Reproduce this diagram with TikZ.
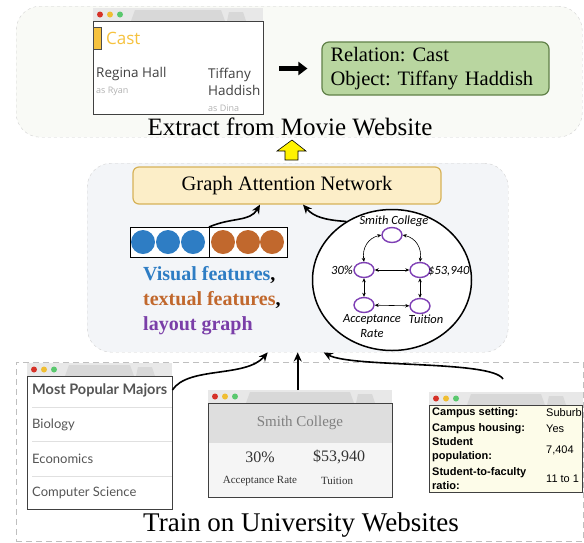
\documentclass[tikz,border=0pt]{standalone}
\usepackage{fontspec}
\setmainfont{Liberation Serif}
\newfontfamily\castfont{Open Sans}
\newfontfamily\majorfont{Lato}
\newfontfamily\graphfont{Carlito}
\newfontfamily\tablefont{Liberation Sans}
\usetikzlibrary{arrows.meta,shapes.geometric}

\definecolor{toppanelfill}{RGB}{249,250,246}
\definecolor{midpanelfill}{RGB}{243,245,248}
\definecolor{gatfill}{RGB}{252,238,200}
\definecolor{gatdraw}{RGB}{214,178,88}
\definecolor{relfill}{RGB}{185,214,160}
\definecolor{reldraw}{RGB}{96,128,72}
\definecolor{visblue}{RGB}{46,125,196}
\definecolor{txtorange}{RGB}{193,104,45}
\definecolor{layoutpurple}{RGB}{122,62,168}
\definecolor{gpurple}{RGB}{126,63,181}
\definecolor{castyellow}{RGB}{246,194,62}
\definecolor{barfill}{RGB}{232,232,232}
\definecolor{tabfill}{RGB}{216,216,216}
\definecolor{dotred}{RGB}{214,50,40}
\definecolor{dotyellow}{RGB}{240,190,50}
\definecolor{dotgreen}{RGB}{90,200,110}
\definecolor{campusfill}{RGB}{253,252,233}
\definecolor{headgrey}{RGB}{222,222,222}
\definecolor{lowgrey}{RGB}{245,245,245}
\definecolor{uigrey}{RGB}{85,85,85}

\newcommand{\browserbar}[3]{%
    \fill[barfill] (#1,#2) rectangle ++(#3,13);
    \fill[tabfill] (#1+38,#2+13) -- (#1+42,#2+2) -- (#1+#3-42,#2+2) -- (#1+#3-38,#2+13) -- cycle;
    \fill[tabfill] (#1+#3-36,#2+13) -- (#1+#3-34,#2+4) -- (#1+#3-20,#2+4) -- (#1+#3-17,#2+13) -- cycle;
    \fill[dotred] (#1+7,#2+6.5) circle (3pt);
    \fill[dotyellow] (#1+17,#2+6.5) circle (3pt);
    \fill[dotgreen] (#1+27,#2+6.5) circle (3pt);
}

\begin{document}
\frenchspacing
\begin{tikzpicture}[x=1pt,y=-1pt,
    panel/.style={draw=black!18, dashed, rounded corners=24pt, anchor=north west, inner sep=0pt},
    winbody/.style={draw=black!75, anchor=north west, inner sep=0pt},
    txt/.style={inner sep=0pt, anchor=west},
    flow/.style={-{Stealth[length=9pt,width=8pt]}, line width=1.6pt},
    gnode/.style={ellipse, draw=gpurple, line width=1.4pt, fill=white, minimum width=20pt, minimum height=15pt, inner sep=0pt},
    glabel/.style={inner sep=0pt, font=\graphfont\itshape\fontsize{12.5}{15}\selectfont},
    gedge/.style={{Stealth[length=4pt,width=3.5pt]}-{Stealth[length=4pt,width=3.5pt]}, line width=0.6pt},
    castname/.style={txt, text=black!75, font=\castfont\fontsize{13.5}{15}\selectfont},
    castrole/.style={txt, text=black!30, font=\castfont\fontsize{9}{11}\selectfont},
    majortext/.style={txt, text=uigrey, font=\majorfont\fontsize{13}{15}\selectfont},
    campuskey/.style={txt, align=left, font=\tablefont\bfseries\fontsize{11}{14}\selectfont},
    campusval/.style={txt, font=\tablefont\fontsize{11}{14}\selectfont}]
    \useasboundingbox (0,0) rectangle (584,542);

    \node[panel, fill=toppanelfill, minimum width=566pt, minimum height=131pt] (toppanel) at (16,6) {};
    \node[panel, fill=midpanelfill, minimum width=421pt, minimum height=189pt] (midpanel) at (87,163) {};
    \node[draw=black!25, dash pattern=on 6pt off 4pt, line width=0.9pt, anchor=north west, inner sep=0pt, minimum width=567pt, minimum height=179pt] (lowpanel) at (16,362) {};

    \browserbar{93}{8}{170}
    \node[winbody, fill=white, minimum width=170pt, minimum height=93pt] (castwin) at (93,21) {};
    \node[draw=black!70, fill=castyellow, anchor=north west, inner sep=0pt, minimum width=8pt, minimum height=22pt] (castmark) at (93,27) {};
    \node[txt, text=castyellow, font=\castfont\fontsize{17}{20}\selectfont] (casthead) at (106,38) {Cast};
    \node[castname] (regina) at (96,74) {Regina Hall};
    \node[castrole] (reginarole) at (96,91) {as Ryan};
    \node[castname] (tiffany) at (208,75) {Tiffany};
    \node[castname] (haddish) at (208,90) {Haddish};
    \node[castrole] (tiffanyrole) at (208,108) {as Dina};

    \node[draw=reldraw, line width=1.2pt, fill=relfill, rounded corners=7pt, align=left, text width=210pt, inner xsep=8.5pt, minimum height=53pt, font=\fontsize{20.5}{24}\selectfont] (relation) at (435.5,68.5) {Relation: Cast\\Object: Tiffany Haddish};
    \draw[-{Triangle[length=9pt,width=13pt]}, line width=4.5pt, shorten <=16pt, shorten >=14pt] (castwin.east |- relation.west) -- (relation.west);
    \node[inner sep=0pt, font=\fontsize{25}{30}\selectfont] (extracttitle) at (290,127) {Extract from Movie Website};

    \draw[fill=yellow, line width=0.6pt] (285,160) -- (285,151) -- (277,151) -- (292,140) -- (306,151) -- (298,151) -- (298,160) -- cycle;

    \node[draw=gatdraw, line width=1.2pt, fill=gatfill, rounded corners=6pt, minimum width=308pt, minimum height=37pt, font=\fontsize{20.5}{24}\selectfont] (gat) at (287,185.5) {Graph Attention Network};

    \node[draw, line width=1.3pt, fill=white, anchor=north west, inner sep=0pt, minimum width=79pt, minimum height=30pt] (visbar) at (130,227) {};
    \node[draw, line width=1.3pt, fill=white, anchor=north west, inner sep=0pt, minimum width=78pt, minimum height=30pt] (textbar) at (209,227) {};
    \foreach \cx in {143,168,193}
        \fill[visblue] (\cx,242) circle (12pt);
    \foreach \cx in {223,248,272}
        \fill[txtorange] (\cx,242) circle (12pt);
    \node[txt, align=left, font=\bfseries\fontsize{20}{25}\selectfont] (featlegend) at (143,301) {\textcolor{visblue}{Visual features},\\\textcolor{txtorange}{textual features},\\\textcolor{layoutpurple}{layout graph}};

    \node[draw, ellipse, line width=1.5pt, fill=white, minimum width=159pt, minimum height=141pt, inner sep=0pt] (bubble) at (392,280) {};
    \node[gnode] (gsmith) at (392,235) {};
    \node[gnode] (gpct) at (364,270) {};
    \node[gnode] (gcost) at (420,270) {};
    \node[gnode] (gaccept) at (364,305) {};
    \node[gnode] (gtuition) at (420,306) {};
    \node[glabel] (lsmith) at (394,221) {Smith College};
    \node[glabel, anchor=east] (lpct) at (353,270) {30\%};
    \node[glabel, anchor=west] (lcost) at (428,271) {\$53,940};
    \node[glabel, align=center] (laccept) at (372,326) {Acceptance\\Rate};
    \node[glabel] (ltuition) at (426,319) {Tuition};
    \draw[gedge] (gsmith.west) .. controls (368,238) and (362,248) .. (gpct.north);
    \draw[gedge] (gsmith.east) .. controls (416,238) and (422,248) .. (gcost.north);
    \draw[gedge] (gpct) -- (gcost);
    \draw[gedge] (gpct) -- (gaccept);
    \draw[gedge] (gcost) -- (gtuition);
    \draw[gedge] (gaccept) -- (gtuition);

    \draw[flow] (textbar.north west) .. controls (232,217) and (250,222) .. ([xshift=-27pt]gat.south);
    \draw[flow] (bubble.128) .. controls (325,220) and (314,217) .. ([xshift=16pt]gat.south);

    \browserbar{27}{363}{145}
    \node[winbody, fill=white, minimum width=145pt, minimum height=133pt] (majorswin) at (27,376) {};
    \node[majortext, font=\majorfont\bfseries\fontsize{14.5}{16}\selectfont] (majorhead) at (32,390) {Most Popular Majors};
    \foreach \sy in {407,441,476}
        \draw[black!12, line width=0.8pt] (32,\sy) -- (172,\sy);
    \node[majortext] (biology) at (32,425) {Biology};
    \node[majortext] (economics) at (32,459) {Economics};
    \node[majortext] (compsci) at (32,493) {Computer Science};

    \browserbar{208}{390}{184}
    \fill[lowgrey] (208,403) rectangle (392,497);
    \fill[headgrey] (208,403) rectangle (392,443);
    \node[winbody, minimum width=184pt, minimum height=94pt] (smithwin) at (208,403) {};
    \node[inner sep=0pt, text=black!50, font=\fontsize{15}{18}\selectfont] (smithhead) at (300,423) {Smith College};
    \node[inner sep=0pt, font=\fontsize{16}{19}\selectfont, text=black!80] (pctval) at (260,457) {30\%};
    \node[inner sep=0pt, font=\fontsize{16}{19}\selectfont, text=black!80] (costval) at (339,457) {\$53,940};
    \node[inner sep=0pt, font=\fontsize{11}{13}\selectfont, text=black!80] (pctkey) at (260,481) {Acceptance Rate};
    \node[inner sep=0pt, font=\fontsize{11}{13}\selectfont, text=black!80] (costkey) at (337,481) {Tuition};

    \browserbar{429}{392}{154}
    \node[winbody, fill=campusfill, minimum width=153pt, minimum height=87pt] (campuswin) at (429,405) {};
    \node[campuskey] (ksetting) at (432,413) {Campus setting:};
    \node[campuskey] (khousing) at (432,429) {Campus housing:};
    \node[campuskey] (kpop) at (432,450) {Student\\population:};
    \node[campuskey] (kratio) at (432,479) {Student-to-faculty\\ratio:};
    \node[campusval] (vsetting) at (546,413) {Suburb};
    \node[campusval] (vhousing) at (546,429) {Yes};
    \node[campusval] (vpop) at (546,450) {7,404};
    \node[campusval] (vratio) at (546,479) {11 to 1};

    \coordinate (campusfrom) at (503,379);
    \draw[flow] (majorswin.east |- majorhead.east) .. controls (188,366) and (246,378) .. ([xshift=-30pt]midpanel.south);
    \draw[flow, shorten <=13pt] (smithwin.north -| midpanel.south) -- (midpanel.south);
    \draw[flow] (campusfrom) .. controls (492,360) and (352,368) .. ([xshift=26pt]midpanel.south);

    \node[inner sep=0pt, font=\fontsize{27}{32}\selectfont] (traintitle) at (301,525) {Train on University Websites};
\end{tikzpicture}
\end{document}
